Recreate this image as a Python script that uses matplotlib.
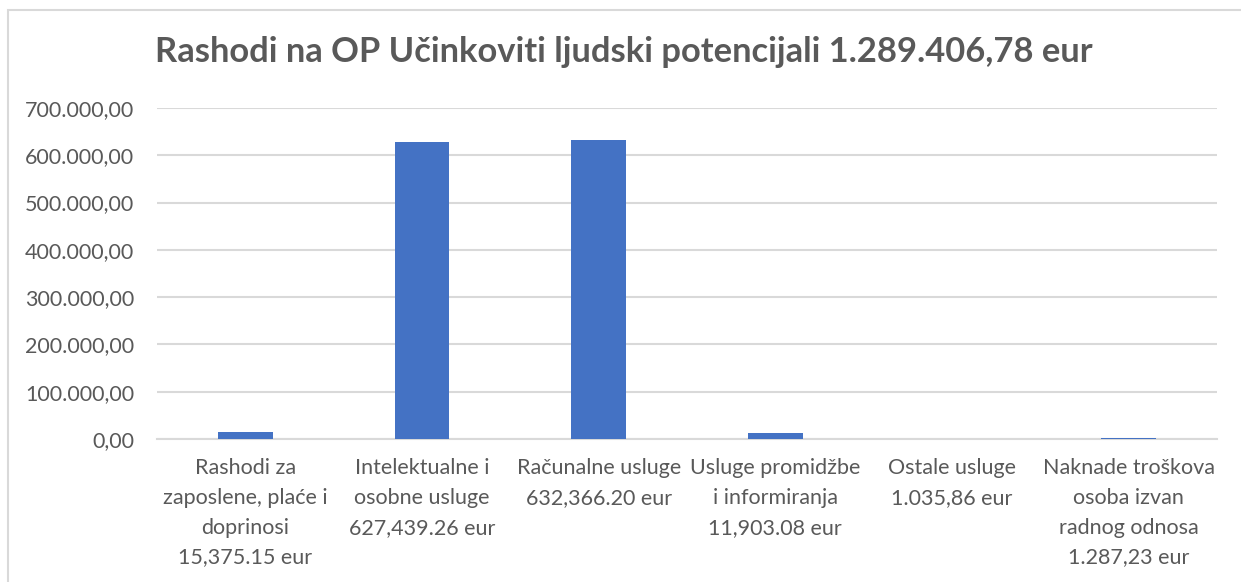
import matplotlib
matplotlib.use("Agg")
import matplotlib.pyplot as plt
from matplotlib.patches import Rectangle
from matplotlib.ticker import FuncFormatter

categories = [
    "Rashodi za\nzaposlene, plaće i\ndoprinosi\n15,375.15 eur",
    "Intelektualne i\nosobne usluge\n627,439.26 eur",
    "Računalne usluge\n632,366.20 eur",
    "Usluge promidžbe\ni informiranja\n11,903.08 eur",
    "Ostale usluge\n1.035,86 eur",
    "Naknade troškova\nosoba izvan\nradnog odnosa\n1.287,23 eur",
]
values = [15375.15, 627439.26, 632366.20, 11903.08, 1035.86, 1287.23]
y_ticks = [0, 100000, 200000, 300000, 400000, 500000, 600000, 700000]

title = "Rashodi na OP Učinkoviti ljudski potencijali 1.289.406,78 eur"

plt.rcParams["font.family"] = ["Lato", "DejaVu Sans"]
text_color = "#595959"
grid_color = "#D9D9D9"

fig = plt.figure(figsize=(12.41, 5.82), dpi=100)
ax = fig.add_axes([157 / 1241, 1 - 439 / 582, 1060 / 1241, 331 / 582])

# outer chart border (Excel style), cut off on right and bottom
fig.patches.append(
    Rectangle((8 / 1241, -0.1), 1.2, 1 - 10 / 582 + 0.1,
              transform=fig.transFigure, fill=False,
              edgecolor="#D9D9D9", linewidth=1.5)
)

x = range(len(values))
ax.bar(x, values, width=0.31, color="#4472C4", zorder=3)

ax.set_xlim(-0.5, len(values) - 0.5)
ax.set_ylim(0, 700000)
ax.set_yticks(y_ticks)


def fmt(v, pos):
    s = f"{v:,.2f}"
    return s.replace(",", "X").replace(".", ",").replace("X", ".")


ax.yaxis.set_major_formatter(FuncFormatter(fmt))
ax.set_xticks(list(x))
ax.set_xticklabels(categories, fontsize=15.5, color=text_color, linespacing=1.6)
ax.tick_params(axis="y", labelsize=15.5, labelcolor=text_color, length=0, pad=16.5)
ax.tick_params(axis="x", length=0, pad=14)

ax.grid(axis="y", color=grid_color, linewidth=1.5, zorder=0)
for side in ["top", "right", "left"]:
    ax.spines[side].set_visible(False)
ax.spines["bottom"].set_color(grid_color)
ax.spines["bottom"].set_linewidth(1.5)

fig.text(0.503, 1 - 52 / 582, title, ha="center", va="center",
         fontsize=24.8, fontweight="bold", color=text_color)

fig.savefig("out.png", dpi=100)
